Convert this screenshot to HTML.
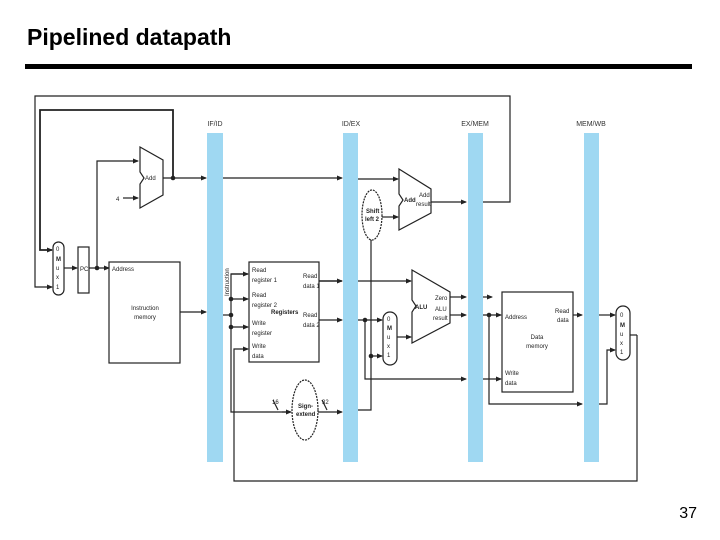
<!DOCTYPE html>
<html><head><style>
html,body{margin:0;padding:0;background:#fff;}
svg{display:block;font-family:"Liberation Sans",sans-serif;}
</style></head><body>
<svg width="720" height="540" viewBox="0 0 720 540" xmlns="http://www.w3.org/2000/svg">
<defs>
<marker id="a" markerWidth="6" markerHeight="6" refX="5" refY="3" orient="auto" markerUnits="userSpaceOnUse"><path d="M0,0.5 L6,3 L0,5.5 z" fill="#222"/></marker>
</defs>
<text x="27" y="45" font-size="23" font-weight="bold" fill="#000">Pipelined datapath</text>
<rect x="25" y="64" width="667" height="5" fill="#000"/>
<text x="697" y="518" font-size="16" text-anchor="end" fill="#000">37</text>

<g fill="#9fd8f2">
<rect x="207" y="133" width="16" height="329"/>
<rect x="343" y="133" width="15" height="329"/>
<rect x="468" y="133" width="15" height="329"/>
<rect x="584" y="133" width="15" height="329"/>
</g>
<g font-size="7" fill="#333" text-anchor="middle">
<text x="215" y="126">IF/ID</text><text x="351" y="126">ID/EX</text>
<text x="475" y="126">EX/MEM</text><text x="591" y="126">MEM/WB</text>
</g>

<g stroke="#222" fill="none" stroke-width="1.2">
<polyline points="483,202 510,202 510,96 35,96 35,287 52,287" marker-end="url(#a)"/>
<polyline points="173,178 173,110 40,110 40,250 52,250" stroke-width="1.8" marker-end="url(#a)"/>
<polygon points="140,147 163,160 163,195 140,208 140,184 144,178 140,172" fill="#fff"/>
<polyline points="97,268 97,161 138,161" marker-end="url(#a)"/>
<line x1="123" y1="198" x2="138" y2="198" marker-end="url(#a)"/>
<line x1="163" y1="178" x2="206" y2="178" marker-end="url(#a)"/>
<line x1="223" y1="178" x2="342" y2="178" marker-end="url(#a)"/>
<line x1="358" y1="179" x2="398" y2="179" marker-end="url(#a)"/>
<rect x="53" y="242" width="11" height="53" rx="5.5" fill="#fff"/>
<line x1="64" y1="268" x2="77" y2="268" marker-end="url(#a)"/>
<rect x="78" y="247" width="11" height="46" fill="#fff"/>
<line x1="89" y1="268" x2="109" y2="268" marker-end="url(#a)"/>
<rect x="109" y="262" width="71" height="101" fill="#fff"/>
<line x1="180" y1="312" x2="206" y2="312" marker-end="url(#a)"/>
<rect x="249" y="262" width="70" height="100" fill="#fff"/>
<line x1="223" y1="315" x2="231" y2="315"/>
<polyline points="248,274 231,274 231,412 290,412" />
<line x1="231" y1="274" x2="248" y2="274" marker-end="url(#a)"/>
<line x1="231" y1="299" x2="248" y2="299" marker-end="url(#a)"/>
<line x1="231" y1="327" x2="248" y2="327" marker-end="url(#a)"/>
<line x1="282" y1="412" x2="291" y2="412" marker-end="url(#a)"/>
<polyline points="637,335 637,481 234,481 234,349 248,349" marker-end="url(#a)"/>
<line x1="319" y1="281" x2="342" y2="281" marker-end="url(#a)" stroke-width="1.6"/>
<line x1="319" y1="320" x2="342" y2="320" marker-end="url(#a)"/>
<ellipse cx="305" cy="410" rx="13" ry="30" fill="#fff" stroke-dasharray="2,1"/>
<line x1="318" y1="412" x2="342" y2="412" marker-end="url(#a)"/>
<line x1="273" y1="400" x2="278" y2="410"/><line x1="322" y1="400" x2="327" y2="410"/>
<ellipse cx="372" cy="215" rx="10" ry="25" fill="#fff" stroke-dasharray="2,1"/>
<polyline points="358,410 371,410 371,240"/>
<line x1="382" y1="217" x2="398" y2="217" marker-end="url(#a)"/>
<polygon points="399,169 431,189 431,213 399,230 399,206 403,200 399,194" fill="#fff"/>
<line x1="431" y1="202" x2="466" y2="202" marker-end="url(#a)"/>
<line x1="358" y1="281" x2="411" y2="281" marker-end="url(#a)"/>
<polyline points="358,320 382,320" marker-end="url(#a)"/>
<polyline points="365,320 365,379 466,379" marker-end="url(#a)"/>
<line x1="371" y1="356" x2="382" y2="356" marker-end="url(#a)"/>
<rect x="383" y="312" width="14" height="53" rx="7" fill="#fff"/>
<line x1="397" y1="337" x2="411" y2="337" marker-end="url(#a)"/>
<polygon points="412,270 450,292 450,323 412,343 412,312 416,306 412,300" fill="#fff"/>
<line x1="450" y1="297" x2="466" y2="297" marker-end="url(#a)"/>
<line x1="450" y1="315" x2="466" y2="315" marker-end="url(#a)"/>
<line x1="483" y1="297" x2="492" y2="297" marker-end="url(#a)"/>
<line x1="483" y1="315" x2="501" y2="315" marker-end="url(#a)"/>
<line x1="483" y1="379" x2="501" y2="379" marker-end="url(#a)"/>
<polyline points="489,315 489,404 582,404" marker-end="url(#a)"/>
<rect x="502" y="292" width="71" height="100" fill="#fff"/>
<line x1="573" y1="315" x2="582" y2="315" marker-end="url(#a)"/>
<line x1="599" y1="315" x2="615" y2="315" marker-end="url(#a)"/>
<polyline points="599,404 607,404 607,350 615,350" marker-end="url(#a)"/>
<rect x="616" y="306" width="14" height="54" rx="7" fill="#fff"/>
<line x1="630" y1="335" x2="637" y2="335"/>
</g>
<g fill="#222">
<circle cx="173" cy="178" r="2.3"/><circle cx="97" cy="268" r="2.3"/>
<circle cx="231" cy="299" r="2.3"/><circle cx="231" cy="315" r="2.3"/><circle cx="231" cy="327" r="2.3"/>
<circle cx="365" cy="320" r="2.3"/><circle cx="371" cy="356" r="2.3"/><circle cx="489" cy="315" r="2.3"/>
</g>
<g font-size="6" fill="#222">
<text x="145" y="180">Add</text><text x="116" y="201">4</text>
<text x="56" y="251">0</text><text x="56" y="261" font-weight="bold">M</text><text x="56" y="270">u</text><text x="56" y="279">x</text><text x="56" y="289">1</text>
<text x="80" y="271">PC</text><text x="112" y="271">Address</text>
<text x="145" y="310" text-anchor="middle">Instruction</text><text x="145" y="319" text-anchor="middle">memory</text>
<text x="229" y="296" transform="rotate(-90 229 296)">Instruction</text>
<text x="252" y="272">Read</text><text x="252" y="282">register 1</text>
<text x="252" y="297">Read</text><text x="252" y="307">register 2</text>
<text x="252" y="325">Write</text><text x="252" y="335">register</text>
<text x="252" y="348">Write</text><text x="252" y="358">data</text>
<text x="303" y="278">Read</text><text x="303" y="288">data 1</text>
<text x="303" y="317">Read</text><text x="303" y="327">data 2</text>
<text x="271" y="314" font-weight="bold">Registers</text>
<text x="298" y="408" font-weight="bold">Sign-</text><text x="296" y="416" font-weight="bold">extend</text>
<text x="272" y="404">16</text><text x="322" y="404">32</text>
<text x="366" y="213" font-weight="bold">Shift</text><text x="365" y="221" font-weight="bold">left 2</text>
<text x="404" y="202" font-weight="bold">Add</text><text x="419" y="197">Add</text><text x="416" y="206">result</text>
<text x="387" y="321">0</text><text x="387" y="330" font-weight="bold">M</text><text x="387" y="339">u</text><text x="387" y="348">x</text><text x="387" y="357">1</text>
<text x="415" y="309" font-weight="bold">ALU</text><text x="435" y="300">Zero</text><text x="435" y="311">ALU</text><text x="433" y="320">result</text>
<text x="505" y="319">Address</text><text x="555" y="313">Read</text><text x="557" y="322">data</text>
<text x="537" y="339" text-anchor="middle">Data</text><text x="537" y="348" text-anchor="middle">memory</text>
<text x="505" y="375">Write</text><text x="505" y="385">data</text>
<text x="620" y="317">0</text><text x="620" y="327" font-weight="bold">M</text><text x="620" y="336">u</text><text x="620" y="345">x</text><text x="620" y="354">1</text>
</g>
</svg>
</body></html>
